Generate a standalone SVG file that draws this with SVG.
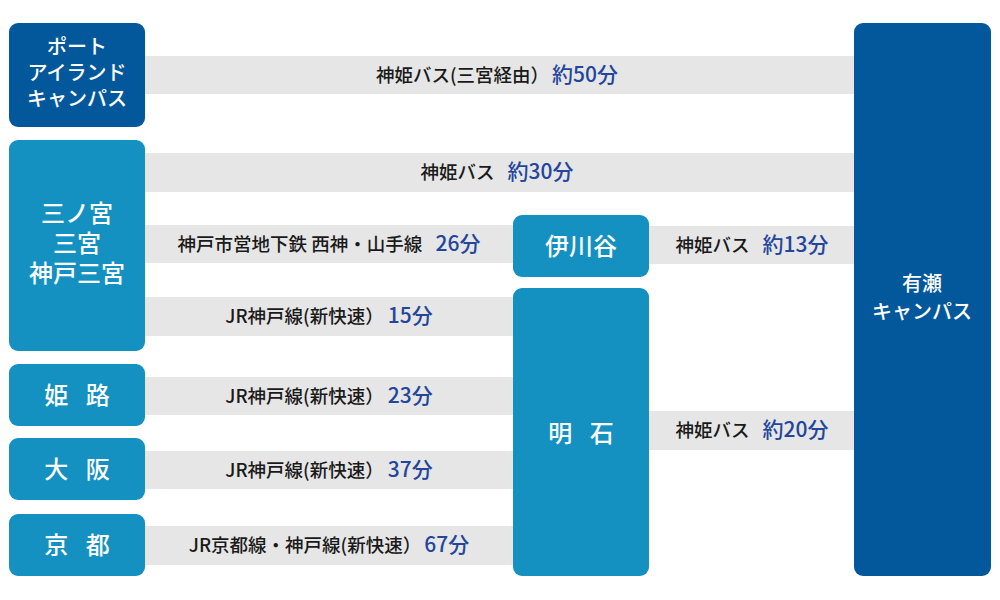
<svg xmlns="http://www.w3.org/2000/svg" width="1000" height="600" viewBox="0 0 1000 600">
<style>
.band{fill:#e6e6e6}
.dark{fill:#03589b}
.light{fill:#1491c1}
.lbl{font-family:"Noto Sans CJK JP","Noto Sans",sans-serif;font-size:18.5px;font-weight:500;fill:#1a1a1a;text-anchor:middle}
.min{fill:#23459c;font-size:21px}
.nt{font-family:"Noto Sans CJK JP","Noto Sans",sans-serif;font-weight:500;fill:#ffffff;text-anchor:middle}
.n20{font-size:20px}
.n23{font-size:24px}
.sp{word-spacing:12px}
</style>
<rect width="1000" height="600" fill="#ffffff"/>
<g id="connectors">
<rect class="band" x="145" y="56" width="709" height="38"/>
<rect class="band" x="145" y="153" width="709" height="39"/>
<rect class="band" x="145" y="225" width="368" height="38"/>
<rect class="band" x="649" y="226" width="205" height="38"/>
<rect class="band" x="145" y="297" width="368" height="39"/>
<rect class="band" x="145" y="377" width="368" height="38"/>
<rect class="band" x="145" y="451" width="368" height="38"/>
<rect class="band" x="145" y="526" width="368" height="39"/>
<rect class="band" x="649" y="411" width="205" height="39"/>
<text class="lbl" x="497" y="82">神姫バス(三宮経由）<tspan class="min" dx="3">約50分</tspan></text>
<text class="lbl" x="497" y="179">神姫バス <tspan class="min" dx="9">約30分</tspan></text>
<text class="lbl" x="329" y="251">神戸市営地下鉄 西神・山手線 <tspan class="min" dx="9">26分</tspan></text>
<text class="lbl" x="329" y="323">JR神戸線(新快速） <tspan class="min">15分</tspan></text>
<text class="lbl" x="329" y="403">JR神戸線(新快速） <tspan class="min">23分</tspan></text>
<text class="lbl" x="329" y="477">JR神戸線(新快速） <tspan class="min">37分</tspan></text>
<text class="lbl" x="329" y="552">JR京都線・神戸線(新快速）<tspan class="min" dx="3">67分</tspan></text>
<text class="lbl" x="752" y="252">神姫バス <tspan class="min" dx="9">約13分</tspan></text>
<text class="lbl" x="752" y="437">神姫バス <tspan class="min" dx="9">約20分</tspan></text>
</g>
<g id="node-portisland">
<rect class="dark" x="9" y="23" width="136" height="104" rx="9"/>
<text class="nt n20"><tspan x="77" y="54">ポート</tspan><tspan x="77" y="80">アイランド</tspan><tspan x="77" y="106">キャンパス</tspan></text>
</g>
<g id="node-sannomiya">
<rect class="light" x="9" y="140" width="136" height="211" rx="9"/>
<text class="nt n23"><tspan x="77" y="222">三ノ宮</tspan><tspan x="77" y="252">三宮</tspan><tspan x="77" y="282">神戸三宮</tspan></text>
</g>
<g id="node-himeji">
<rect class="light" x="9" y="364" width="136" height="62" rx="9"/>
<text class="nt n23 sp" x="77" y="404">姫 路</text>
</g>
<g id="node-osaka">
<rect class="light" x="9" y="438" width="136" height="62" rx="9"/>
<text class="nt n23 sp" x="77" y="478">大 阪</text>
</g>
<g id="node-kyoto">
<rect class="light" x="9" y="514" width="136" height="62" rx="9"/>
<text class="nt n23 sp" x="77" y="554">京 都</text>
</g>
<g id="node-ikawadani">
<rect class="light" x="513" y="215" width="136" height="62" rx="9"/>
<text class="nt n23" x="581" y="255">伊川谷</text>
</g>
<g id="node-akashi">
<rect class="light" x="513" y="288" width="136" height="288" rx="9"/>
<text class="nt n23 sp" x="581" y="442">明 石</text>
</g>
<g id="node-ariake">
<rect class="dark" x="854" y="23" width="137" height="553" rx="9"/>
<text class="nt n20"><tspan x="922" y="291">有瀬</tspan><tspan x="922" y="319">キャンパス</tspan></text>
</g>
</svg>
